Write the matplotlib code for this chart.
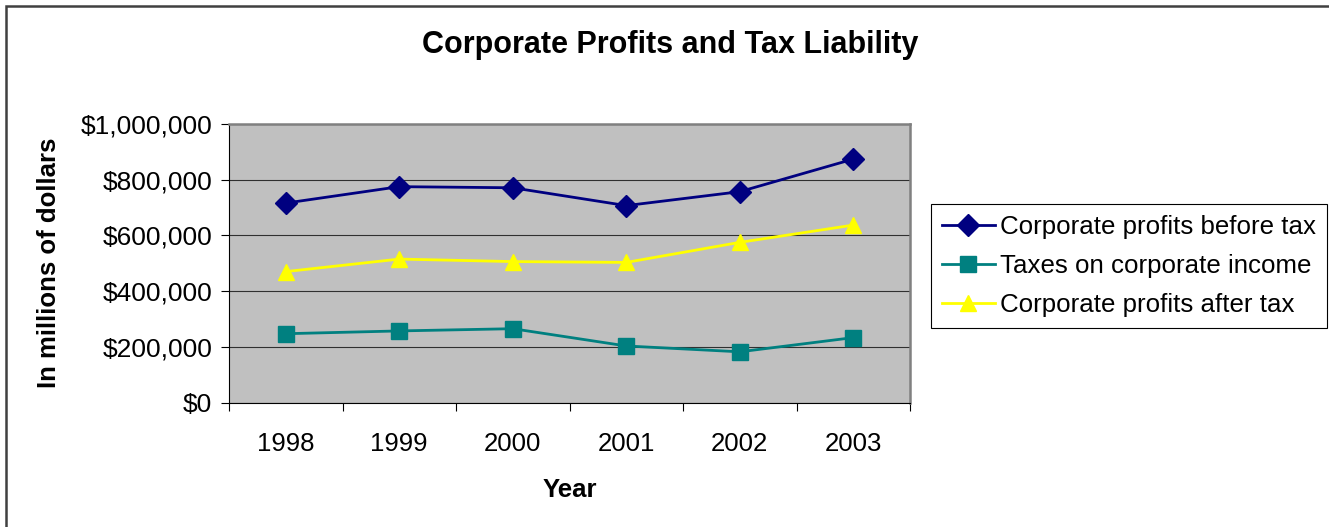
import matplotlib
matplotlib.use("Agg")
import matplotlib.pyplot as plt
from matplotlib.patches import Rectangle
from matplotlib.ticker import FuncFormatter, FixedLocator

years = ["1998", "1999", "2000", "2001", "2002", "2003"]
profits_before_tax = [716000, 775000, 771000, 707000, 757000, 874000]
taxes_on_income = [247000, 257000, 265000, 203000, 182000, 233000]
profits_after_tax = [470000, 515000, 506000, 503000, 575000, 637000]
series_labels = ["Corporate profits before tax", "Taxes on corporate income", "Corporate profits after tax"]
y_ticks = [0, 200000, 400000, 600000, 800000, 1000000]

plt.rcParams['font.family'] = ['Liberation Sans', 'DejaVu Sans']

W, H = 1329, 527
fig = plt.figure(figsize=(W / 100, H / 100), dpi=100)
fig.patch.set_facecolor("white")

# outer chart border (only top/left visible)
fig.patches.append(Rectangle((6 / W, -0.2), 1.2, 1.2 - 6 / H, transform=fig.transFigure,
                             fill=False, edgecolor="#404040", linewidth=1.8))

ax = fig.add_axes([229 / W, 1 - 402.5 / H, (910 - 229) / W, (402.5 - 124) / H])
ax.set_facecolor("#C0C0C0")

x = list(range(len(years)))
ax.plot(x, profits_before_tax, color="#000080", marker="D", markersize=11, linewidth=2, label=series_labels[0], zorder=3)
ax.plot(x, taxes_on_income, color="#008080", marker="s", markersize=11, linewidth=2, label=series_labels[1], zorder=3)
ax.plot(x, profits_after_tax, color="#FFFF00", marker="^", markersize=12, linewidth=2, label=series_labels[2], zorder=3)

ax.set_xlim(-0.5, len(years) - 0.5)
ax.set_ylim(0, 1000000)
ax.set_yticks(y_ticks)
ax.yaxis.set_major_formatter(FuncFormatter(lambda v, p: "${:,.0f}".format(v)))
ax.grid(axis="y", color="#303030", linewidth=0.8)
ax.set_axisbelow(True)

ax.xaxis.set_major_locator(FixedLocator([i - 0.5 for i in range(len(years) + 1)]))
ax.xaxis.set_major_formatter(FuncFormatter(lambda v, p: ""))
ax.xaxis.set_minor_locator(FixedLocator(x))
ax.set_xticklabels(years, minor=True)
ax.tick_params(axis="x", which="major", direction="out", length=6, width=0.8, color="black")
ax.tick_params(axis="x", which="minor", length=0, pad=21, labelsize=18.5)
ax.tick_params(axis="y", direction="out", length=6, width=0.8, color="black", labelsize=19, pad=6)

for s in ["top", "right"]:
    ax.spines[s].set_color("#808080")
    ax.spines[s].set_linewidth(1.8)
for s in ["left", "bottom"]:
    ax.spines[s].set_color("black")
    ax.spines[s].set_linewidth(0.8)

ax.set_xlabel("Year", fontsize=18.5, fontweight="bold", labelpad=16)
ax.set_ylabel("In millions of dollars", fontsize=18.5, fontweight="bold", labelpad=14)

fig.text(670 / W, 1 - 45 / H, "Corporate Profits and Tax Liability", fontsize=22, fontweight="bold",
         ha="center", va="center")

leg = fig.legend(loc="upper left", bbox_to_anchor=(931 / W, 1 - 204 / H), borderaxespad=0,
                 fontsize=18.6, frameon=True, fancybox=False, edgecolor="black", framealpha=1,
                 handlelength=2.05, handletextpad=0.2, labelspacing=0.58, borderpad=0.42)
leg.get_frame().set_linewidth(0.8)

fig.savefig("out.png", dpi=100)
